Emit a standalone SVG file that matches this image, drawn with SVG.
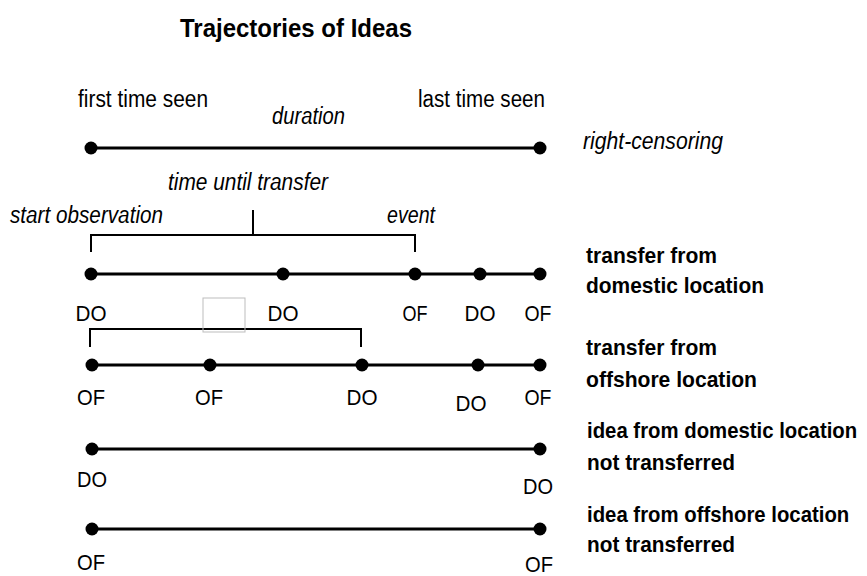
<svg xmlns="http://www.w3.org/2000/svg" width="867" height="576" viewBox="0 0 867 576">
<style>
text{font-family:"Liberation Sans Narrow","Liberation Sans",Arial,sans-serif;fill:#000}
.t{font-size:26px;font-weight:bold}
.r{font-size:23px}
.i{font-size:23px;font-style:italic}
.b{font-size:22px;font-weight:bold}
.m{font-size:22px;text-anchor:middle}
.ln{stroke:#000;stroke-width:3;fill:none}
.br{stroke:#000;stroke-width:2;fill:none}
.dot{fill:#000}
</style>
<rect width="867" height="576" fill="#fff"/>
<text class="t" x="180" y="37" textLength="232" lengthAdjust="spacingAndGlyphs">Trajectories of Ideas</text>

<g id="connectors">
<line class="ln" x1="91" y1="148" x2="540" y2="148"/>
<line class="ln" x1="91" y1="274" x2="540" y2="274"/>
<line class="ln" x1="92" y1="365" x2="540" y2="365"/>
<line class="ln" x1="92" y1="449" x2="540" y2="449"/>
<line class="ln" x1="92" y1="529" x2="540" y2="529"/>
<path class="br" d="M91 252 V235 H415 V252 M253 235 V210"/>
<path class="br" d="M90 347 V329 H361 V347"/>
</g>

<g id="row1">
<circle class="dot" cx="91" cy="148" r="6.5"/>
<circle class="dot" cx="540" cy="148" r="6.5"/>
<text class="r" x="78" y="107" textLength="130" lengthAdjust="spacingAndGlyphs">first time seen</text>
<text class="r" x="418" y="107" textLength="127" lengthAdjust="spacingAndGlyphs">last time seen</text>
<text class="i" x="272" y="124" textLength="73" lengthAdjust="spacingAndGlyphs">duration</text>
<text class="i" x="583" y="149" textLength="140" lengthAdjust="spacingAndGlyphs">right-censoring</text>
</g>

<g id="bracket-labels">
<text class="i" x="168" y="190" textLength="160" lengthAdjust="spacingAndGlyphs">time until transfer</text>
<text class="i" x="10" y="223" textLength="153" lengthAdjust="spacingAndGlyphs">start observation</text>
<text class="i" x="387" y="223" textLength="48" lengthAdjust="spacingAndGlyphs">event</text>
</g>

<g id="row2">
<circle class="dot" cx="91" cy="274" r="6.5"/>
<circle class="dot" cx="283" cy="274" r="6.5"/>
<circle class="dot" cx="415" cy="274" r="6.5"/>
<circle class="dot" cx="480" cy="274" r="6.5"/>
<circle class="dot" cx="540" cy="274" r="6.5"/>
<text class="m" x="91" y="321" textLength="31" lengthAdjust="spacingAndGlyphs">DO</text>
<text class="m" x="283" y="321" textLength="31" lengthAdjust="spacingAndGlyphs">DO</text>
<text class="m" x="415" y="321" textLength="25" lengthAdjust="spacingAndGlyphs">OF</text>
<text class="m" x="480" y="321" textLength="31" lengthAdjust="spacingAndGlyphs">DO</text>
<text class="m" x="538" y="321" textLength="27" lengthAdjust="spacingAndGlyphs">OF</text>
<text class="b" x="586" y="263" textLength="131" lengthAdjust="spacingAndGlyphs">transfer from</text>
<text class="b" x="586" y="293" textLength="178" lengthAdjust="spacingAndGlyphs">domestic location</text>
</g>

<rect x="203" y="298" width="42" height="34" fill="none" stroke="#bdbdbd" stroke-width="1"/>

<g id="row3">
<circle class="dot" cx="92" cy="365" r="6.5"/>
<circle class="dot" cx="210" cy="365" r="6.5"/>
<circle class="dot" cx="362" cy="365" r="6.5"/>
<circle class="dot" cx="478" cy="365" r="6.5"/>
<circle class="dot" cx="540" cy="365" r="6.5"/>
<text class="m" x="91" y="405" textLength="28" lengthAdjust="spacingAndGlyphs">OF</text>
<text class="m" x="209" y="405" textLength="28" lengthAdjust="spacingAndGlyphs">OF</text>
<text class="m" x="362" y="405" textLength="31" lengthAdjust="spacingAndGlyphs">DO</text>
<text class="m" x="471" y="411" textLength="31" lengthAdjust="spacingAndGlyphs">DO</text>
<text class="m" x="538" y="405" textLength="27" lengthAdjust="spacingAndGlyphs">OF</text>
<text class="b" x="586" y="355" textLength="131" lengthAdjust="spacingAndGlyphs">transfer from</text>
<text class="b" x="586" y="387" textLength="171" lengthAdjust="spacingAndGlyphs">offshore location</text>
</g>

<g id="row4">
<circle class="dot" cx="92" cy="449" r="6.5"/>
<circle class="dot" cx="540" cy="449" r="6.5"/>
<text class="m" x="92" y="487" textLength="30" lengthAdjust="spacingAndGlyphs">DO</text>
<text class="m" x="538" y="494" textLength="30" lengthAdjust="spacingAndGlyphs">DO</text>
<text class="b" transform="translate(587 438) scale(0.925 1)">idea from domestic location</text>
<text class="b" x="587" y="470" textLength="148" lengthAdjust="spacingAndGlyphs">not transferred</text>
</g>

<g id="row5">
<circle class="dot" cx="92" cy="529" r="6.5"/>
<circle class="dot" cx="540" cy="529" r="6.5"/>
<text class="m" x="91" y="570" textLength="28" lengthAdjust="spacingAndGlyphs">OF</text>
<text class="m" x="539" y="572" textLength="28" lengthAdjust="spacingAndGlyphs">OF</text>
<text class="b" transform="translate(587 522) scale(0.925 1)">idea from offshore location</text>
<text class="b" x="587" y="552" textLength="148" lengthAdjust="spacingAndGlyphs">not transferred</text>
</g>
</svg>
